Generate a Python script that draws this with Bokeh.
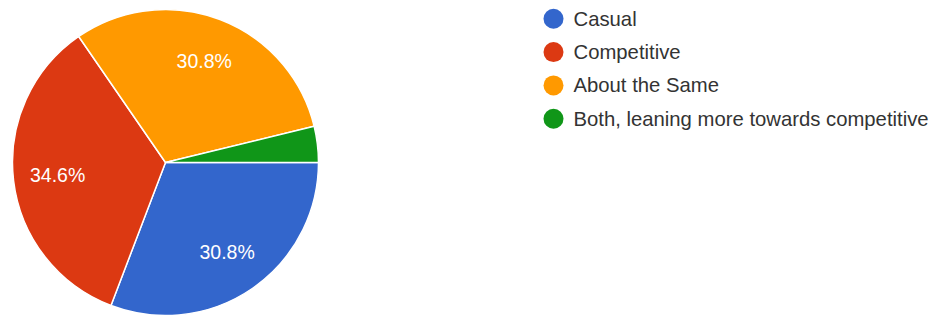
import math
from bokeh.plotting import figure
from bokeh.models import Range1d, ColumnDataSource
from bokeh.core.properties import value
from bokeh.embed import file_html
from bokeh.resources import INLINE

categories = ["Casual", "Competitive", "About the Same", "Both, leaning more towards competitive"]
percents = [30.8, 34.6, 30.8, 3.8]
colors = ["#3366cc", "#dc3912", "#ff9900", "#109618"]
label_texts = ["30.8%", "34.6%", "30.8%", ""]

W, H = 934, 316
# data coords: x = page x, y = 316 - page y
p = figure(width=W, height=H, output_backend="svg", toolbar_location=None,
           x_range=Range1d(0, W), y_range=Range1d(316 - H, 316),
           min_border=0, min_border_left=0, min_border_right=0,
           min_border_top=0, min_border_bottom=0)
p.axis.visible = False
p.grid.visible = False
p.outline_line_color = None
p.background_fill_color = "white"
p.border_fill_color = "white"

cx, cy, r = 165, 316 - 162, 153
total = sum(percents)
starts, ends, lx, ly = [], [], [], []
cum = 0.0
for v in percents:
    a0 = cum / total * 2 * math.pi
    a1 = (cum + v) / total * 2 * math.pi
    starts.append(-a0)
    ends.append(-a1)
    mid = (a0 + a1) / 2
    lx.append(cx + 0.71 * r * math.cos(-mid))
    ly.append(cy + 0.71 * r * math.sin(-mid))
    cum += v

src = ColumnDataSource(dict(start=starts, end=ends, color=colors,
                            lx=lx, ly=ly, label=label_texts))
p.wedge(x=cx, y=cy, radius=r, start_angle="start", end_angle="end",
        direction="clock", fill_color="color", line_color="white",
        line_width=1.5, source=src)
p.text(x="lx", y="ly", text="label", source=src, text_color="white",
       text_font=value("Liberation Sans"), text_font_size="19.5px",
       text_align="center", text_baseline="middle")

leg_x = [553] * len(categories)
leg_y = [316 - (18.3 + 33.3 * i) for i in range(len(categories))]
lsrc = ColumnDataSource(dict(x=leg_x, y=leg_y, color=colors,
                             tx=[x + 20 for x in leg_x], label=categories))
p.scatter(x="x", y="y", size=20, fill_color="color", line_color=None, source=lsrc)
p.text(x="tx", y="y", text="label", source=lsrc, text_color="#333333",
       text_font=value("Liberation Sans"), text_font_size="20.3px",
       text_align="left", text_baseline="middle")

open("out.html", "w").write(file_html(p, INLINE))
